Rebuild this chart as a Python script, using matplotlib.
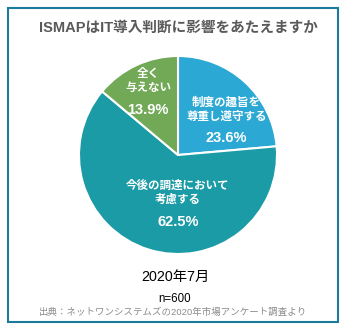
import numpy as np
import matplotlib.pyplot as plt
from matplotlib.patches import Rectangle

plt.rcParams['font.family'] = ['Liberation Sans', 'Noto Sans CJK JP', 'DejaVu Sans']

labels = ["制度の趣旨を\n尊重し遵守する", "今後の調達において\n考慮する", "全く\n与えない"]
shares = [23.6, 62.5, 13.9]
colors = ["#2ba8d3", "#1b9ba5", "#72a957"]
title = "ISMAPはIT導入判断に影響をあたえますか"
period = "2020年7月"
sample = "n=600"
source = "出典：ネットワンシステムズの2020年市場アンケート調査より"

# label block centres in pie units (x, y of text lines, y of pct)
label_pos = [(0.49, 0.455, 0.17), (0.0, -0.38, -0.68), (-0.30, 0.745, 0.45)]

W, H = 348, 331
fig = plt.figure(figsize=(W / 100, H / 100), dpi=100)

# frame
fig.patches.append(Rectangle((8 / W, (H - 322) / H), 330 / W, 314 / H,
                             transform=fig.transFigure, fill=False,
                             edgecolor="#1c7a9a", linewidth=1.5))

ax = fig.add_axes([78 / W, (H - 255) / H, 200 / W, 200 / H])
ax.pie(shares, colors=colors, startangle=90, counterclock=False, radius=1,
       wedgeprops=dict(edgecolor="white", linewidth=1.5))
ax.set_xlim(-1.01, 1.01)
ax.set_ylim(-1.01, 1.01)
ax.set_aspect("equal")
ax.axis("off")

for lab, val, (x, y, yp) in zip(labels, shares, label_pos):
    ax.text(x, y, lab, ha="center", va="center", color="white",
            fontsize=8.3, fontweight="bold", linespacing=1.25)
    ax.text(x, yp, f"{val:.1f}%", ha="center", va="center", color="white",
            fontsize=10.5, fontweight="bold")

fig.text(178 / W, 1 - 28 / H, title, ha="center", va="center",
         fontsize=10.5, fontweight="bold", color="#595959")
fig.text(175 / W, 1 - 277 / H, period, ha="center", va="center",
         fontsize=10.3, color="black")
fig.text(175 / W, 1 - 299 / H, sample, ha="center", va="center",
         fontsize=8.3, color="black")
fig.text(173 / W, 1 - 312 / H, source, ha="center", va="center",
         fontsize=6.8, color="#8c8c8c")

fig.savefig("out.png", dpi=100)
